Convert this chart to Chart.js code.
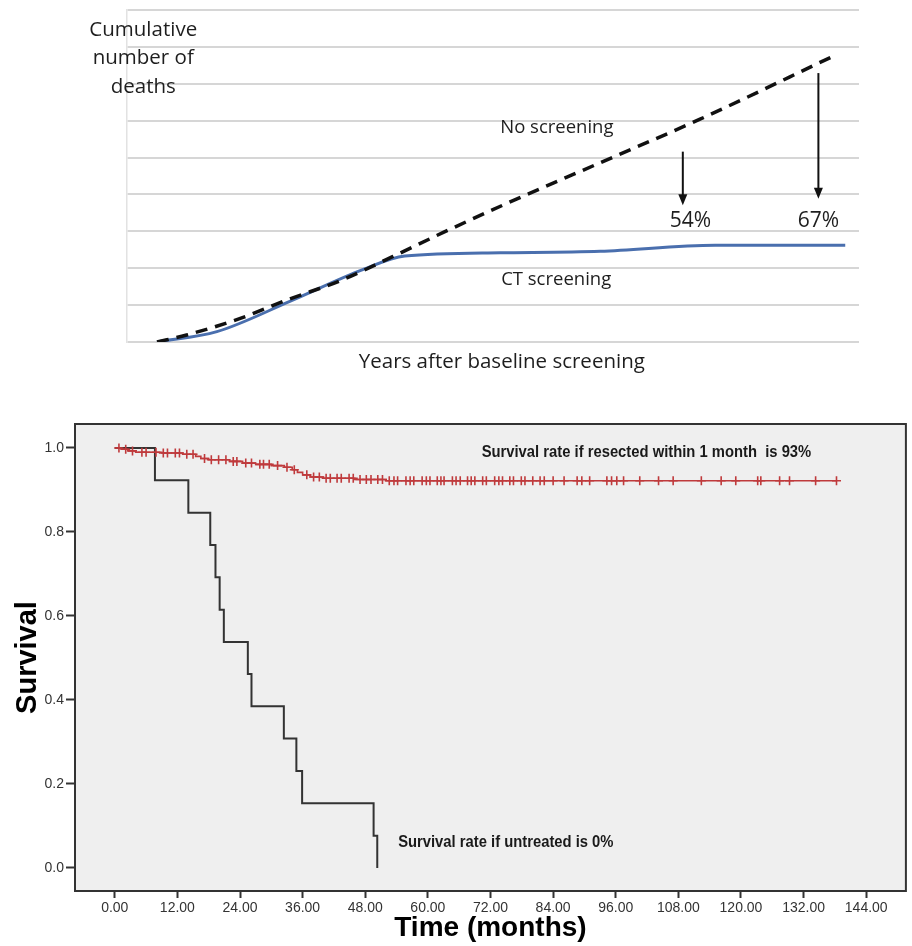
<!DOCTYPE html>
<html>
<head>
<meta charset="utf-8">
<script src="https://cdn.jsdelivr.net/npm/chart.js@4.4.1/dist/chart.umd.min.js"></script>
<style>
  body { margin: 0; background: #fff; }
  #wrap { position: relative; width: 912px; height: 946px; }
  canvas { position: absolute; left: 0; }
  #top { top: 0; }
  #km { top: 380px; }
</style>
</head>
<body>
<div id="wrap">
  <canvas id="top" width="912" height="380"></canvas>
  <canvas id="km" width="912" height="566"></canvas>
</div>
<script>
// ---- top panel: cumulative deaths (grid units) by years after baseline ----
const noScreenYears  = [0, 0.43, 1.21, 1.89, 2.70, 3.43, 4.16, 4.99, 6.44, 7.89, 9.85];
const noScreenDeaths = [0, 0.19, 0.64, 1.14, 1.69, 2.32, 2.97, 3.68, 4.86, 6.04, 7.77];
const ctYears  = [0, 0.87, 1.93, 2.99, 3.60, 4.99, 6.44, 8.11, 10.0];
const ctDeaths = [0, 0.28, 1.10, 1.96, 2.33, 2.42, 2.46, 2.62, 2.62];

// ---- bottom panel: Kaplan-Meier survival (months) ----
const resectedTime = [0, 1.2, 2.5, 4, 9, 13, 15.5, 16.5, 18, 22, 24.5, 27, 30, 32.5, 34, 35, 36, 37.5, 40, 46, 52, 138.3];
const resectedSurv = [1.0, 0.997, 0.993, 0.99, 0.988, 0.985, 0.98, 0.975, 0.972, 0.968, 0.964, 0.961, 0.958, 0.954, 0.948, 0.942, 0.936, 0.931, 0.928, 0.925, 0.922, 0.922];
const resectedCensored = [0.8, 2.1, 3.4, 5.2, 6.0, 7.9, 9.3, 10.1, 11.6, 12.4, 13.8, 15.0, 17.2, 18.5, 19.9, 21.3,
  22.7, 23.4, 25.1, 26.2, 27.8, 28.5, 29.6, 31.2, 33.0, 34.4, 36.8, 38.1, 39.2, 40.5, 41.3, 42.6, 43.4, 44.9,
  45.7, 47.0, 48.2, 49.1, 50.4, 51.3, 52.6, 53.5, 54.2, 55.8, 56.6, 57.3, 58.9, 59.7, 60.4, 61.8, 62.5, 63.1,
  64.7, 65.4, 66.2, 67.6, 68.3, 69.0, 70.5, 71.2, 72.8, 73.6, 74.3, 75.7, 76.4, 77.9, 78.6, 80.1, 81.5, 82.3,
  84.0, 86.1, 88.6, 89.5, 91.0, 94.3, 95.2, 96.2, 97.5, 100.6, 104.2, 107.0, 112.4, 116.2, 119.0, 123.2,
  123.8, 127.4, 129.3, 134.3, 138.3];
const untreatedTime = [0, 7.7, 14.1, 18.3, 19.3, 20.1, 20.9, 25.5, 26.2, 32.4, 34.8, 35.9, 49.6, 50.3];
const untreatedSurv = [1, 0.923, 0.846, 0.769, 0.692, 0.615, 0.538, 0.462, 0.385, 0.308, 0.231, 0.154, 0.077, 0];

const monthTicks = [0, 12, 24, 36, 48, 60, 72, 84, 96, 108, 120, 132, 144];
const survTicks = [0, 0.2, 0.4, 0.6, 0.8, 1.0];

function pairs(xs, ys) { return xs.map((x, i) => ({ x: x, y: ys[i] })); }
function survAt(t) {
  let s = resectedSurv[0];
  for (let i = 0; i < resectedTime.length; i++) if (resectedTime[i] <= t) s = resectedSurv[i];
  return s;
}

// ================= TOP CHART =================
const topText = [
  { text: 'No screening', x: 5.81, y: 5.80 },
  { text: 'CT screening', x: 5.80, y: 1.68 },
  { text: '54%', x: 7.75, y: 3.29 },
  { text: '67%', x: 9.61, y: 3.29 }
];
const topArrows = [
  { x: 7.64, from: 5.16, to: 3.71 },
  { x: 9.61, from: 7.29, to: 3.88 }
];

const topLabels = {
  id: 'topLabels',
  afterDatasetsDraw(chart) {
    const { ctx, scales: { x, y } } = chart;
    ctx.save();
    ctx.fillStyle = '#1e1e1e';
    ctx.textAlign = 'center';
    ctx.textBaseline = 'middle';
    ctx.font = '18.5px "Open Sans", sans-serif';
    topText.slice(0, 2).forEach(t => ctx.fillText(t.text, x.getPixelForValue(t.x), y.getPixelForValue(t.y)));
    ctx.font = '21px "Open Sans", sans-serif';
    topText.slice(2).forEach(t => ctx.fillText(t.text, x.getPixelForValue(t.x), y.getPixelForValue(t.y)));
    ctx.font = '20.5px "Open Sans", sans-serif';
    ['Cumulative', 'number of', 'deaths'].forEach((s, i) =>
      ctx.fillText(s, x.getPixelForValue(-0.2), y.getPixelForValue([8.46, 7.70, 6.91][i])));
    ctx.fillText('Years after baseline screening', x.getPixelForValue(5.01), chart.chartArea.bottom + 20);
    ctx.strokeStyle = '#111';
    ctx.fillStyle = '#111';
    ctx.lineWidth = 2;
    topArrows.forEach(a => {
      const px = x.getPixelForValue(a.x);
      const y1 = y.getPixelForValue(a.from), y2 = y.getPixelForValue(a.to);
      ctx.beginPath();
      ctx.moveTo(px, y1);
      ctx.lineTo(px, y2 - 8);
      ctx.stroke();
      ctx.beginPath();
      ctx.moveTo(px, y2);
      ctx.lineTo(px - 4.5, y2 - 11);
      ctx.lineTo(px + 4.5, y2 - 11);
      ctx.closePath();
      ctx.fill();
    });
    ctx.restore();
  }
};

new Chart(document.getElementById('top'), {
  type: 'line',
  data: {
    datasets: [
      {
        label: 'No screening',
        data: pairs(noScreenYears, noScreenDeaths),
        borderColor: '#111',
        borderWidth: 3.5,
        borderDash: [12, 8],
        pointRadius: 0,
        cubicInterpolationMode: 'monotone'
      },
      {
        label: 'CT screening',
        data: pairs(ctYears, ctDeaths),
        borderColor: '#4a6fae',
        borderWidth: 3,
        pointRadius: 0,
        cubicInterpolationMode: 'monotone'
      }
    ]
  },
  options: {
    responsive: false,
    animation: false,
    layout: { padding: { left: 127, right: 53, top: 10, bottom: 38 } },
    plugins: { legend: { display: false }, tooltip: { enabled: false } },
    scales: {
      x: { type: 'linear', min: -0.436, max: 10.2, display: false },
      y: {
        min: 0, max: 9,
        ticks: { display: false, stepSize: 1 },
        grid: { color: '#d6d6d6', lineWidth: 2, drawTicks: false },
        border: { display: true, color: '#e2e2e2', width: 1.5 },
        afterFit(s) { s.width = 0; }
      }
    }
  },
  plugins: [topLabels]
});

// ================= BOTTOM CHART =================
const kmNotes = [
  { text: 'Survival rate if resected within 1 month  is 93%', x: 70.3, y: 0.990 },
  { text: 'Survival rate if untreated is 0%', x: 54.3, y: 0.06 }
];

const kmFrame = {
  id: 'kmFrame',
  beforeDraw(chart) {
    const { ctx, chartArea: a } = chart;
    ctx.save();
    ctx.fillStyle = '#efefef';
    ctx.fillRect(a.left, a.top, a.right - a.left, a.bottom - a.top);
    ctx.restore();
  },
  afterDraw(chart) {
    const { ctx, chartArea: a, scales: { x, y } } = chart;
    ctx.save();
    ctx.strokeStyle = '#333';
    ctx.lineWidth = 2;
    ctx.strokeRect(a.left, a.top, a.right - a.left, a.bottom - a.top);
    ctx.fillStyle = '#1a1a1a';
    ctx.font = 'bold 17px "Liberation Sans", Arial, sans-serif';
    ctx.textAlign = 'left';
    ctx.textBaseline = 'middle';
    // narrow the bold face to match the condensed look of the original
    kmNotes.forEach(n => {
      const px = x.getPixelForValue(n.x), py = y.getPixelForValue(n.y);
      ctx.save();
      ctx.translate(px, py);
      ctx.scale(0.87, 1);
      ctx.fillText(n.text, 0, 0);
      ctx.restore();
    });
    ctx.restore();
  }
};

new Chart(document.getElementById('km'), {
  type: 'line',
  data: {
    datasets: [
      {
        label: 'Resected',
        data: pairs(resectedTime, resectedSurv),
        stepped: 'before',
        borderColor: '#bf3a3c',
        borderWidth: 1.6,
        pointRadius: 0
      },
      {
        label: 'Resected censored',
        data: resectedCensored.map(t => ({ x: t, y: survAt(t) })),
        showLine: false,
        pointStyle: 'cross',
        pointRadius: 4.5,
        borderColor: '#bf3a3c',
        borderWidth: 1.6
      },
      {
        label: 'Untreated',
        data: pairs(untreatedTime, untreatedSurv),
        stepped: 'before',
        borderColor: '#333',
        borderWidth: 2,
        pointRadius: 0
      }
    ]
  },
  options: {
    responsive: false,
    animation: false,
    layout: { padding: { top: 44, right: 2, left: 0, bottom: 0 } },
    plugins: { legend: { display: false }, tooltip: { enabled: false } },
    scales: {
      x: {
        type: 'linear', min: -7.62, max: 151.6,
        afterBuildTicks(s) { s.ticks = monthTicks.map(v => ({ value: v })); },
        ticks: {
          callback: v => v.toFixed(2),
          font: { family: '"Liberation Sans", Arial', size: 14 },
          color: '#333', padding: 2, maxRotation: 0, autoSkip: false
        },
        grid: { drawOnChartArea: false, tickLength: 7, tickColor: '#333', tickWidth: 2 },
        border: { display: false },
        title: {
          display: true, text: 'Time (months)',
          font: { family: '"Liberation Sans", Arial', size: 28, weight: 'bold' },
          color: '#000', padding: { top: 0, bottom: 1 }
        },
        afterFit(s) { s.height = 55; }
      },
      y: {
        min: -0.0548, max: 1.0571,
        afterBuildTicks(s) { s.ticks = survTicks.map(v => ({ value: v })); },
        ticks: {
          callback: v => v.toFixed(1),
          font: { family: '"Liberation Sans", Arial', size: 14 },
          color: '#333', padding: 2
        },
        grid: { drawOnChartArea: false, tickLength: 9, tickColor: '#333', tickWidth: 2 },
        border: { display: false },
        title: {
          display: true, text: 'Survival',
          font: { family: '"Liberation Sans", Arial', size: 29, weight: 'bold' },
          color: '#000', padding: { top: 11, bottom: 0 }
        },
        afterFit(s) { s.width = 75; }
      }
    }
  },
  plugins: [kmFrame]
});
</script>
</body>
</html>
